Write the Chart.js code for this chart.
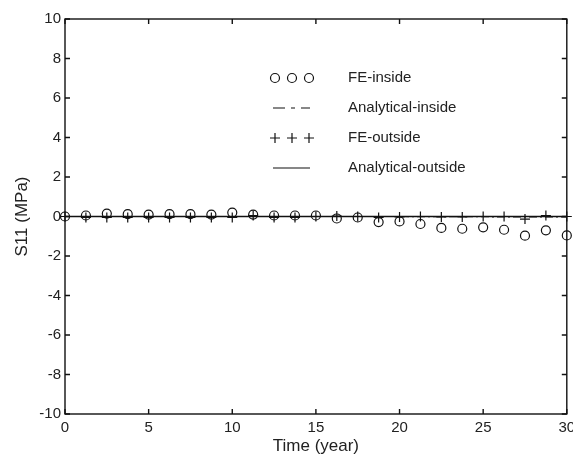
<!DOCTYPE html>
<html>
<head>
<meta charset="utf-8">
<script src="https://cdn.jsdelivr.net/npm/chart.js@4/dist/chart.umd.min.js"></script>
<style>
  html, body { margin: 0; padding: 0; background: #fff; overflow: hidden; }
  #wrap { width: 573px; height: 459px; position: relative; }
</style>
</head>
<body>
<div id="wrap"><canvas id="s11Chart"></canvas></div>
<script>
// Time points (year)
const years = [0, 1.25, 2.5, 3.75, 5, 6.25, 7.5, 8.75, 10, 11.25, 12.5, 13.75, 15,
  16.25, 17.5, 18.75, 20, 21.25, 22.5, 23.75, 25, 26.25, 27.5, 28.75, 30];

// S11 (MPa)
const feInside = [0, 0.05, 0.15, 0.12, 0.1, 0.12, 0.12, 0.1, 0.2, 0.1, 0.05, 0.05, 0.05,
  -0.1, -0.05, -0.28, -0.25, -0.38, -0.58, -0.62, -0.55, -0.67, -0.97, -0.7, -0.96];
const feOutside = [0, -0.05, -0.05, -0.05, -0.05, -0.05, -0.05, -0.05, -0.05, 0.05, -0.05, -0.05, 0,
  0.02, 0, -0.05, -0.02, 0, -0.02, -0.02, 0, 0, -0.13, 0.05, 0];
const analyticalInside = [0, 0, 0, 0, 0, 0, 0, 0, 0, 0, 0, 0, 0,
  0, 0, 0, 0, -0.01, -0.01, -0.01, -0.01, -0.02, -0.02, -0.02, -0.02];
const analyticalOutside = [0, 0, 0, 0, 0, 0, 0, 0, 0, 0, 0, 0, 0,
  0, 0, 0, 0, 0, 0, 0, 0, 0, 0, 0, 0];

const xTicks = [0, 5, 10, 15, 20, 25, 30];
const yTicks = [-10, -8, -6, -4, -2, 0, 2, 4, 6, 8, 10];

const legendLabels = ["FE-inside", "Analytical-inside", "FE-outside", "Analytical-outside"];

const ink = "#111";
const textColor = "#222";
const fontFamily = "'Liberation Sans', Arial, sans-serif";

function pairs(ys) {
  return years.map((t, i) => ({ x: t, y: ys[i] }));
}

// frame, inward ticks on all four sides, and the legend inside the plot
const framePlugin = {
  id: "frame",
  afterDatasetsDraw(chart) {
    const { ctx, chartArea: a, scales } = chart;
    ctx.save();
    ctx.strokeStyle = ink;
    ctx.lineWidth = 1.4;
    ctx.strokeRect(a.left, a.top, a.right - a.left, a.bottom - a.top);
    const len = 5;
    ctx.beginPath();
    xTicks.forEach(v => {
      const px = scales.x.getPixelForValue(v);
      ctx.moveTo(px, a.bottom); ctx.lineTo(px, a.bottom - len);
      ctx.moveTo(px, a.top); ctx.lineTo(px, a.top + len);
    });
    yTicks.forEach(v => {
      const py = scales.y.getPixelForValue(v);
      ctx.moveTo(a.left, py); ctx.lineTo(a.left + len, py);
      ctx.moveTo(a.right, py); ctx.lineTo(a.right - len, py);
    });
    ctx.stroke();

    // legend
    const x0 = 273, x1 = 310, tx = 348;
    const rows = [78, 108, 138, 168];
    ctx.font = "15px " + fontFamily;
    ctx.fillStyle = textColor;
    ctx.textBaseline = "middle";
    ctx.lineWidth = 1.2;
    rows.forEach((ry, i) => {
      ctx.fillText(legendLabels[i], tx, ry);
      ctx.beginPath();
      if (i === 0) {
        [275, 292, 309].forEach(cx => { ctx.moveTo(cx + 4.5, ry); ctx.arc(cx, ry, 4.5, 0, Math.PI * 2); });
        ctx.stroke();
      } else if (i === 1) {
        ctx.setLineDash([12, 6, 4, 6]);
        ctx.moveTo(x0, ry); ctx.lineTo(x1, ry);
        ctx.stroke();
        ctx.setLineDash([]);
      } else if (i === 2) {
        [275, 292, 309].forEach(cx => {
          ctx.moveTo(cx - 5, ry); ctx.lineTo(cx + 5, ry);
          ctx.moveTo(cx, ry - 5); ctx.lineTo(cx, ry + 5);
        });
        ctx.stroke();
      } else {
        ctx.moveTo(x0, ry); ctx.lineTo(x1, ry);
        ctx.stroke();
      }
    });
    ctx.restore();
  }
};

const ctx = document.getElementById("s11Chart").getContext("2d");
const s11Chart = new Chart(ctx, {
  type: "line",
  data: {
    datasets: [
      {
        label: legendLabels[3],
        data: pairs(analyticalOutside),
        borderColor: ink,
        borderWidth: 1.3,
        pointRadius: 0,
        fill: false,
        order: 4
      },
      {
        label: legendLabels[1],
        data: pairs(analyticalInside),
        borderColor: ink,
        borderWidth: 1.2,
        borderDash: [8, 3, 2, 3],
        pointRadius: 0,
        fill: false,
        order: 3
      },
      {
        label: legendLabels[2],
        data: pairs(feOutside),
        showLine: false,
        pointStyle: "cross",
        pointRadius: 5,
        pointBorderColor: ink,
        pointBorderWidth: 1.2,
        clip: false,
        order: 2
      },
      {
        label: legendLabels[0],
        data: pairs(feInside),
        showLine: false,
        pointStyle: "circle",
        pointRadius: 4.5,
        pointBackgroundColor: "rgba(0,0,0,0)",
        pointBorderColor: ink,
        pointBorderWidth: 1.2,
        clip: false,
        order: 1
      }
    ]
  },
  options: {
    responsive: true,
    maintainAspectRatio: false,
    animation: false,
    layout: { padding: { left: 0, right: 5, top: 19, bottom: 0 } },
    plugins: {
      legend: { display: false },
      tooltip: { enabled: false }
    },
    scales: {
      x: {
        type: "linear",
        min: 0,
        max: 30,
        afterBuildTicks: s => { s.ticks = xTicks.map(v => ({ value: v })); },
        afterFit: s => { s.height = 45; s.paddingRight = 0; s.paddingLeft = 0; },
        grid: { display: false, drawTicks: false },
        border: { display: false },
        ticks: { color: textColor, padding: 5, maxRotation: 0, font: { size: 15, family: fontFamily } },
        title: {
          display: true,
          text: "Time (year)",
          color: textColor,
          padding: { top: 0, bottom: 2 },
          font: { size: 17, family: fontFamily }
        }
      },
      y: {
        min: -10,
        max: 10,
        afterBuildTicks: s => { s.ticks = yTicks.map(v => ({ value: v })); },
        afterFit: s => { s.width = 65; },
        grid: { display: false, drawTicks: false },
        border: { display: false },
        ticks: { color: textColor, padding: 4, font: { size: 15, family: fontFamily } },
        title: {
          display: true,
          text: "S11 (MPa)",
          color: textColor,
          padding: { top: 12, bottom: 0 },
          font: { size: 17, family: fontFamily }
        }
      }
    }
  },
  plugins: [framePlugin]
});
</script>
</body>
</html>
